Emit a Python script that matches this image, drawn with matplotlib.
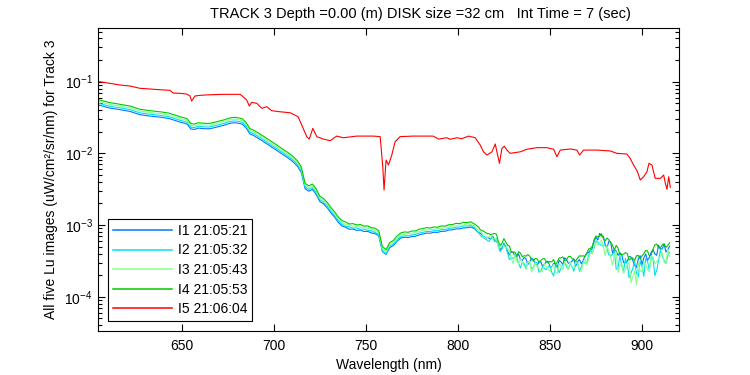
import numpy as np
import matplotlib
matplotlib.use('Agg')
import matplotlib.pyplot as plt
from matplotlib.ticker import LogLocator, NullLocator, FixedLocator, NullFormatter

plt.rcParams['font.family'] = ['Liberation Sans', 'DejaVu Sans']
plt.rcParams['mathtext.fontset'] = 'custom'
plt.rcParams['mathtext.rm'] = 'Liberation Sans'

# wavelength grid of the four near-identical Lu spectra (nm):
# 2 nm steps up to 809, then 1 nm steps through the noisy red end
wavelength = np.concatenate([np.arange(605, 811, 2), np.arange(811, 916, 1)])

# log10 of Lu (uW/cm2/sr/nm)
lu1_log10 = [
    -1.327, -1.341, -1.355, -1.369, -1.376, -1.385, -1.394, -1.403, -1.411, -1.424,
    -1.442, -1.459, -1.467, -1.474, -1.481, -1.486, -1.492, -1.498, -1.506, -1.514,
    -1.530, -1.546, -1.565, -1.576, -1.594, -1.661, -1.666, -1.647, -1.654, -1.657,
    -1.657, -1.647, -1.634, -1.620, -1.608, -1.590, -1.577, -1.574, -1.581, -1.594,
    -1.647, -1.729, -1.751, -1.782, -1.813, -1.846, -1.880, -1.915, -1.948, -1.983,
    -2.018, -2.051, -2.088, -2.131, -2.185, -2.269, -2.493, -2.528, -2.503, -2.570,
    -2.672, -2.704, -2.758, -2.830, -2.889, -2.962, -3.011,
    -3.032, -3.058, -3.056, -3.074, -3.070, -3.090, -3.088, -3.110, -3.120, -3.150,
    -3.370, -3.410, -3.315, -3.285, -3.225, -3.180, -3.171, -3.175, -3.160, -3.156,
    -3.137, -3.124, -3.112, -3.114, -3.100, -3.102, -3.088, -3.087, -3.070, -3.066,
    -3.054, -3.052, -3.040, -3.038, -3.028, -3.050,
    -3.101, -3.112, -3.129, -3.180, -3.195, -3.169, -3.184, -3.189, -3.158, -3.214,
    -3.222, -3.286, -3.343, -3.317, -3.254, -3.305, -3.367, -3.418, -3.372, -3.379,
    -3.434, -3.442, -3.402, -3.484, -3.493, -3.452, -3.470, -3.551, -3.511, -3.461,
    -3.483, -3.536, -3.564, -3.520, -3.511, -3.576, -3.545, -3.513, -3.504, -3.581,
    -3.586, -3.535, -3.544, -3.590, -3.491, -3.515, -3.550, -3.456, -3.481, -3.533,
    -3.525, -3.504, -3.471, -3.575, -3.510, -3.482, -3.538, -3.498, -3.433, -3.395,
    -3.380, -3.346, -3.327, -3.224, -3.171, -3.209, -3.116, -3.151, -3.156, -3.268,
    -3.325, -3.225, -3.237, -3.391, -3.337, -3.364, -3.422, -3.385, -3.411, -3.525,
    -3.526, -3.507, -3.440, -3.444, -3.496, -3.559, -3.589, -3.476, -3.427, -3.554,
    -3.457, -3.403, -3.493, -3.452, -3.379, -3.343, -3.402, -3.422, -3.281, -3.338,
    -3.331, -3.265, -3.375, -3.343, -3.295]

lu2_log10 = [
    -1.302, -1.316, -1.330, -1.344, -1.351, -1.360, -1.369, -1.378, -1.386, -1.399,
    -1.417, -1.434, -1.442, -1.449, -1.456, -1.461, -1.467, -1.473, -1.481, -1.489,
    -1.505, -1.521, -1.540, -1.551, -1.569, -1.636, -1.641, -1.622, -1.629, -1.632,
    -1.632, -1.622, -1.609, -1.595, -1.583, -1.565, -1.552, -1.549, -1.556, -1.569,
    -1.622, -1.704, -1.726, -1.757, -1.788, -1.821, -1.855, -1.890, -1.923, -1.958,
    -1.993, -2.026, -2.063, -2.106, -2.160, -2.244, -2.468, -2.503, -2.478, -2.545,
    -2.647, -2.679, -2.733, -2.805, -2.864, -2.937, -2.986,
    -3.020, -3.024, -3.042, -3.040, -3.058, -3.055, -3.075, -3.078, -3.104, -3.128,
    -3.365, -3.398, -3.296, -3.262, -3.212, -3.158, -3.150, -3.150, -3.138, -3.131,
    -3.112, -3.101, -3.090, -3.089, -3.078, -3.079, -3.064, -3.063, -3.047, -3.042,
    -3.030, -3.027, -3.014, -3.014, -3.005, -3.036,
    -3.090, -3.137, -3.166, -3.151, -3.172, -3.218, -3.227, -3.184, -3.183, -3.233,
    -3.187, -3.293, -3.374, -3.330, -3.267, -3.288, -3.392, -3.482, -3.456, -3.462,
    -3.442, -3.450, -3.536, -3.598, -3.516, -3.536, -3.607, -3.512, -3.520, -3.608,
    -3.592, -3.519, -3.523, -3.657, -3.647, -3.574, -3.605, -3.622, -3.586, -3.565,
    -3.661, -3.710, -3.564, -3.589, -3.665, -3.601, -3.549, -3.525, -3.578, -3.621,
    -3.534, -3.576, -3.644, -3.510, -3.505, -3.644, -3.588, -3.520, -3.529, -3.530,
    -3.426, -3.346, -3.387, -3.314, -3.221, -3.239, -3.266, -3.281, -3.296, -3.268,
    -3.337, -3.415, -3.427, -3.409, -3.369, -3.616, -3.598, -3.427, -3.563, -3.647,
    -3.466, -3.545, -3.734, -3.672, -3.610, -3.499, -3.673, -3.722, -3.507, -3.578,
    -3.715, -3.467, -3.505, -3.628, -3.452, -3.467, -3.705, -3.632, -3.487, -3.348,
    -3.429, -3.493, -3.535, -3.425, -3.381]

lu3_log10 = [
    -1.277, -1.291, -1.305, -1.319, -1.326, -1.335, -1.344, -1.353, -1.361, -1.374,
    -1.392, -1.409, -1.417, -1.424, -1.431, -1.436, -1.442, -1.448, -1.456, -1.464,
    -1.480, -1.496, -1.515, -1.526, -1.544, -1.611, -1.616, -1.597, -1.604, -1.607,
    -1.607, -1.597, -1.584, -1.570, -1.558, -1.540, -1.527, -1.524, -1.531, -1.544,
    -1.597, -1.679, -1.701, -1.732, -1.763, -1.796, -1.830, -1.865, -1.898, -1.933,
    -1.968, -2.001, -2.038, -2.081, -2.135, -2.219, -2.443, -2.478, -2.453, -2.520,
    -2.622, -2.654, -2.708, -2.780, -2.839, -2.912, -2.961,
    -2.995, -2.998, -3.016, -3.015, -3.030, -3.028, -3.048, -3.052, -3.078, -3.100,
    -3.335, -3.372, -3.270, -3.232, -3.186, -3.128, -3.130, -3.118, -3.117, -3.099,
    -3.093, -3.070, -3.071, -3.058, -3.061, -3.047, -3.048, -3.031, -3.030, -3.011,
    -3.012, -2.998, -3.000, -2.984, -2.989, -3.010,
    -3.083, -3.088, -3.105, -3.174, -3.189, -3.169, -3.166, -3.141, -3.194, -3.190,
    -3.198, -3.322, -3.313, -3.281, -3.296, -3.311, -3.325, -3.361, -3.459, -3.538,
    -3.413, -3.493, -3.537, -3.475, -3.508, -3.575, -3.617, -3.530, -3.502, -3.656,
    -3.594, -3.527, -3.579, -3.607, -3.646, -3.651, -3.536, -3.576, -3.615, -3.644,
    -3.589, -3.550, -3.655, -3.677, -3.542, -3.566, -3.625, -3.519, -3.556, -3.620,
    -3.504, -3.591, -3.606, -3.518, -3.549, -3.605, -3.649, -3.525, -3.472, -3.554,
    -3.467, -3.396, -3.397, -3.274, -3.241, -3.279, -3.246, -3.211, -3.296, -3.427,
    -3.292, -3.364, -3.456, -3.562, -3.408, -3.375, -3.661, -3.568, -3.534, -3.672,
    -3.629, -3.562, -3.515, -3.799, -3.723, -3.642, -3.830, -3.523, -3.640, -3.649,
    -3.512, -3.546, -3.620, -3.651, -3.442, -3.442, -3.541, -3.509, -3.476, -3.429,
    -3.382, -3.520, -3.538, -3.338, -3.438]

lu4_log10 = [
    -1.252, -1.266, -1.280, -1.294, -1.301, -1.310, -1.319, -1.328, -1.336, -1.349,
    -1.367, -1.384, -1.392, -1.399, -1.406, -1.411, -1.417, -1.423, -1.431, -1.439,
    -1.455, -1.471, -1.490, -1.501, -1.519, -1.586, -1.591, -1.572, -1.579, -1.582,
    -1.582, -1.572, -1.559, -1.545, -1.533, -1.515, -1.502, -1.499, -1.506, -1.519,
    -1.572, -1.654, -1.676, -1.707, -1.738, -1.771, -1.805, -1.840, -1.873, -1.908,
    -1.943, -1.976, -2.013, -2.056, -2.110, -2.194, -2.418, -2.453, -2.428, -2.495,
    -2.597, -2.629, -2.683, -2.755, -2.814, -2.887,
    -2.936, -2.958, -2.985, -2.980, -2.999, -2.992, -3.014, -3.012, -3.036, -3.044,
    -3.080, -3.300, -3.342, -3.243, -3.215, -3.150, -3.110, -3.096, -3.101, -3.083,
    -3.082, -3.058, -3.050, -3.036, -3.041, -3.027, -3.030, -3.012, -3.015, -2.995,
    -2.993, -2.977, -2.980, -2.963, -2.966, -2.955, -2.986,
    -3.022, -3.060, -3.078, -3.084, -3.105, -3.119, -3.122, -3.135, -3.123, -3.117,
    -3.131, -3.235, -3.285, -3.252, -3.188, -3.237, -3.280, -3.292, -3.378, -3.377,
    -3.376, -3.434, -3.372, -3.392, -3.441, -3.428, -3.434, -3.413, -3.431, -3.481,
    -3.501, -3.466, -3.470, -3.514, -3.497, -3.472, -3.467, -3.511, -3.524, -3.509,
    -3.514, -3.481, -3.548, -3.514, -3.459, -3.457, -3.444, -3.496, -3.487, -3.441,
    -3.435, -3.468, -3.481, -3.497, -3.462, -3.428, -3.434, -3.428, -3.441, -3.393,
    -3.334, -3.326, -3.297, -3.204, -3.151, -3.169, -3.156, -3.121, -3.186, -3.220,
    -3.180, -3.205, -3.243, -3.282, -3.347, -3.283, -3.322, -3.414, -3.414, -3.406,
    -3.384, -3.397, -3.488, -3.466, -3.457, -3.495, -3.428, -3.424, -3.472, -3.429,
    -3.399, -3.354, -3.361, -3.430, -3.421, -3.336, -3.276, -3.264, -3.316, -3.322,
    -3.276, -3.261, -3.311, -3.285, -3.246]

# fifth image (red), its own sampling of the features
wl_i5 = [605, 611, 616.5, 622, 627.3, 632.8, 638.2, 643.6, 645.3, 649.1,
         652.7, 654.5, 655.4, 657.2, 659.9, 665.4, 672.4, 681.7, 683.3, 685.3,
         686.7, 688, 690.8, 693.5, 696.2, 698.9, 703.4, 708.9, 713.2, 715.2,
         717.9, 719.3, 721.2, 723.4, 727, 730.6, 734.2, 737.8, 745.1, 754.1,
         757.8, 759.2, 759.9, 761, 762.3, 764.1, 765.9, 768.6, 775.7, 786.6,
         789.5, 794, 795.8, 799.5, 802.2, 805.8, 809.4, 812.1, 813.9, 815.8,
         818.5, 820.3, 821.2, 822.6, 823.9, 825.2, 826.6, 828.4, 833.9, 837.5,
         842.9, 848.4, 852, 853.8, 855.6, 861, 864.7, 866.1, 868.3, 875.5,
         882.8, 886.4, 891.8, 893.6, 895.4, 897.3, 899.1, 900.9, 902.7, 903.8,
         905.4, 907.2, 910, 911.8, 912.7, 913.6, 914.5, 915.4]
lu_i5 = [0.100, 0.0947, 0.0897, 0.0868, 0.0807, 0.0789, 0.0771, 0.0757, 0.0693, 0.0687,
         0.0671, 0.0630, 0.0536, 0.0630, 0.0644, 0.0656, 0.0665, 0.0665, 0.0616, 0.0554,
         0.0457, 0.0514, 0.0498, 0.0424, 0.0447, 0.0393, 0.0380, 0.0368, 0.0324, 0.0248,
         0.0171, 0.0158, 0.0223, 0.0171, 0.0158, 0.0150, 0.0174, 0.0165, 0.0174, 0.0174,
         0.0171, 0.0065, 0.00308, 0.00807, 0.00687, 0.00947, 0.0145, 0.0171, 0.0174, 0.0174,
         0.0158, 0.0165, 0.0157, 0.0165, 0.0160, 0.0174, 0.0165, 0.0131, 0.0105, 0.00947,
         0.0105, 0.0135, 0.0105, 0.00726, 0.0117, 0.0126, 0.0111, 0.0100, 0.0105, 0.0114,
         0.0120, 0.0120, 0.0114, 0.00897, 0.0111, 0.0115, 0.0111, 0.00947, 0.0111, 0.0111,
         0.0108, 0.0100, 0.00978, 0.00851, 0.00687, 0.00572, 0.00425, 0.00472, 0.00553, 0.00726,
         0.00687, 0.00448, 0.00448, 0.00498, 0.00382, 0.00315, 0.00472, 0.00336]

labels = ['I1 21:05:21', 'I2 21:05:32', 'I3 21:05:43', 'I4 21:05:53', 'I5 21:06:04']
colors = ['#0078ff', '#00e0f0', '#88ff88', '#00c800', '#ff0000']

fig = plt.figure(figsize=(7.5, 3.75), dpi=100)
ax = fig.add_axes([0.1311, 0.1173, 0.7747, 0.8072])

for vals, lab, col in zip([lu1_log10, lu2_log10, lu3_log10, lu4_log10], labels[:4], colors[:4]):
    ax.plot(wavelength, 10.0 ** np.array(vals), color=col, lw=0.8, label=lab)
ax.plot(wl_i5, lu_i5, color=colors[4], lw=0.8, label=labels[4])

ax.set_yscale('log')
ax.set_xlim(604.7, 920.3)
ax.set_ylim(3.33e-5, 0.554)
ax.xaxis.set_major_locator(FixedLocator([650, 700, 750, 800, 850, 900]))
ax.xaxis.set_minor_locator(NullLocator())
ax.yaxis.set_major_locator(LogLocator(base=10, numticks=10))
ax.yaxis.set_minor_locator(LogLocator(base=10, subs=np.arange(2, 10), numticks=10))
ax.yaxis.set_minor_formatter(NullFormatter())

ax.tick_params(which='both', direction='in', top=True, right=True, width=0.8, labelsize=10)
ax.tick_params(which='major', length=5)
ax.tick_params(which='minor', length=3)
ax.tick_params(axis='x', pad=5.5)
ax.tick_params(axis='y', pad=4)
for sp in ax.spines.values():
    sp.set_linewidth(0.8)

ax.set_xlabel('Wavelength (nm)', fontsize=10, labelpad=4)
ax.set_ylabel('All five Lu images (uW/cm\u00b2/sr/nm) for Track 3', fontsize=10)
ax.yaxis.set_label_coords(-0.069, 0.5)

fig.text(0.56, 0.962, 'TRACK 3 Depth =0.00 (m) DISK size =32 cm   Int Time = 7 (sec)',
         ha='center', va='center', fontsize=10.5)

leg = ax.legend(loc='lower left', bbox_to_anchor=(0.0172, 0.033), borderaxespad=0,
                fontsize=10, handlelength=4.2, handletextpad=0.45, labelspacing=0.4,
                borderpad=0.35, fancybox=False, framealpha=1, edgecolor='black')
leg.get_frame().set_linewidth(0.8)
for hl in leg.get_lines():
    hl.set_linewidth(1.1)

fig.savefig('out.png', dpi=100)
